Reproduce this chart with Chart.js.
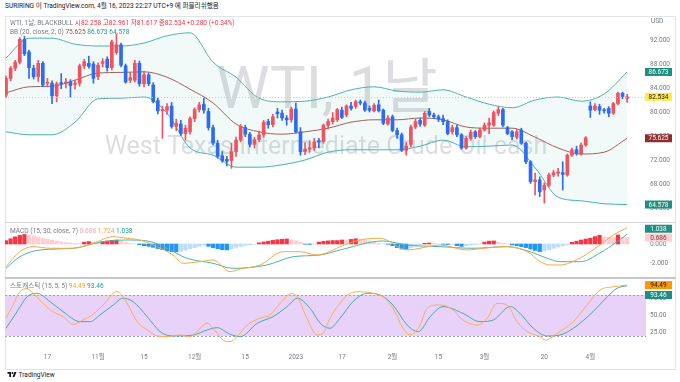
<!DOCTYPE html>
<html>
<head>
<meta charset="utf-8">
<script src="https://cdn.jsdelivr.net/npm/chart.js@4/dist/chart.umd.min.js"></script>
<style>
  html, body { margin: 0; padding: 0; background: #fff; }
  body { width: 680px; height: 382px; position: relative; overflow: hidden;
         font-family: Roboto, "Noto Sans CJK KR", sans-serif; }
  canvas { position: absolute; left: 0; }
  .txt { position: absolute; white-space: nowrap; font-size: 6.6px; line-height: 9px; }
  .g { color: #787b86; }
  .r { color: #f23645; }
  .t { color: #22998c; }
  .o { color: #f5a23c; }
  #frame { position: absolute; left: 5px; top: 16px; width: 671px; height: 354px;
           border: 1px solid #e0e3eb; box-sizing: border-box; }
  .sep { position: absolute; left: 5px; width: 671px; }
</style>
</head>
<body>
<div id="frame"></div>
<div class="sep" style="top:222px;height:1px;background:#d6d8de"></div>
<div class="sep" style="top:277px;height:2px;background:#c5c7ce"></div>

<canvas id="mainChart" width="680" height="206" style="top:16px"></canvas>
<canvas id="macdChart" width="680" height="54" style="top:223px"></canvas>
<canvas id="stochChart" width="680" height="90" style="top:279px"></canvas>

<div class="txt" style="left:5px;top:2px;color:#131722">SURIRING 이 TradingView.com, 4월 16, 2023 22:27 UTC+9 에 퍼블리쉬했음</div>
<div class="txt" style="left:10px;top:19px"><span class="g">WTI, 1날, BLACKBULL</span> <span class="r">시82.258</span> <span class="r">고82.961</span> <span class="r">저81.617</span> <span class="r">종82.534</span> <span class="r">+0.280 (+0.34%)</span></div>
<div class="txt" style="left:10px;top:28px"><span class="g">BB (20, close, 2, 0)</span> <span style="color:#a34848">75.625</span> <span class="t">86.673</span> <span class="t">64.578</span></div>
<div class="txt" style="left:10px;top:227px"><span class="g">MACD (15, 30, close, 7)</span> <span style="color:#f6a5b4">0.686</span> <span class="o">1.724</span> <span class="t">1.038</span></div>
<div class="txt" style="left:10px;top:282px"><span class="g">스토캐스틱 (15, 5, 5)</span> <span class="o">94.49</span> <span class="t">93.46</span></div>
<div class="txt g" style="left:651px;top:17px;font-size:6.5px">USD</div>
<div class="txt" style="left:7px;top:371px;color:#131722">
  <svg width="10" height="7" viewBox="0 0 36 28" style="vertical-align:-1px"><path d="M14 24H7V11H0V4h14v20zM28 24h-8l7.5-20h8L28 24z" fill="#131722"/><circle cx="20" cy="8" r="4" fill="#131722"/></svg> TradingView</div>

<script>
// ---- time axis ----
const tickIdx  = [9, 20, 30, 41, 52, 63, 73, 84, 94, 104, 117, 127];
const tickText = ['17', '11월', '15', '12월', '15', '2023', '17', '2월', '15', '3월', '20', '4월'];

// ---- daily candles (bar index 0..135) ----
const opens = [
  82.8, 85.6, 87.3, 88.3, 92.1, 90.0, 87.3, 85.9, 88.1, 84.8,
  84.8, 82.7, 84.9, 84.7, 85.0, 84.6, 84.8, 87.7, 88.1, 88.0,
  85.9, 88.1, 88.8, 87.4, 89.9, 91.2, 87.7, 85.3, 85.3, 88.1,
  84.7, 86.2, 84.5, 81.9, 80.2, 80.3, 81.0, 77.6, 78.0, 76.4,
  76.7, 78.9, 80.4, 81.3, 80.1, 77.4, 74.8, 72.7, 72.1, 71.9,
  73.4, 75.3, 77.4, 76.3, 74.6, 75.4, 76.2, 78.4, 77.9, 80.0,
  79.8, 79.0, 78.7, 80.5, 76.7, 73.4, 73.8, 74.0, 75.2, 75.1,
  77.8, 78.4, 78.7, 80.3, 79.5, 81.0, 80.9, 81.7, 81.5, 80.6,
  80.2, 81.2, 80.3, 78.0, 79.2, 76.9, 76.2, 73.6, 74.6, 77.5,
  78.6, 77.8, 80.1, 79.5, 79.2, 78.9, 78.4, 76.7, 77.4, 76.2,
  74.0, 75.6, 76.7, 75.9, 77.0, 77.8, 77.8, 79.8, 80.4, 77.4,
  76.7, 75.8, 77.0, 74.8, 71.7, 68.4, 68.7, 67.0, 67.8, 69.5,
  69.8, 69.9, 69.5, 72.8, 73.7, 73.0, 74.5, 81.0, 80.4, 80.9,
  80.3, 80.6, 79.8, 81.4, 83.1, 82.258
];
const highs = [
  86.0, 87.6, 88.6, 92.4, 92.6, 90.3, 87.8, 88.6, 88.4, 85.6,
  85.2, 85.0, 86.4, 85.6, 85.4, 85.3, 88.0, 88.8, 89.3, 88.4,
  88.2, 88.9, 89.2, 92.0, 93.0, 91.5, 88.0, 86.6, 88.6, 88.5,
  86.8, 86.5, 84.9, 82.3, 81.0, 81.4, 81.6, 78.8, 78.6, 77.8,
  79.2, 80.7, 81.6, 82.5, 80.6, 77.8, 75.3, 73.4, 72.6, 74.8,
  75.8, 77.9, 77.8, 76.6, 75.8, 76.8, 78.6, 78.8, 79.6, 80.6,
  80.3, 79.4, 80.8, 81.5, 77.4, 74.9, 75.2, 75.6, 75.6, 78.0,
  78.8, 79.9, 80.6, 80.8, 81.2, 81.6, 82.0, 82.0, 81.8, 81.0,
  81.4, 82.0, 80.5, 79.4, 79.5, 77.3, 76.5, 74.9, 77.8, 78.8,
  79.0, 80.1, 80.6, 79.8, 79.5, 79.5, 78.7, 77.8, 77.8, 76.4,
  75.9, 77.0, 76.9, 77.3, 78.2, 79.0, 80.2, 80.9, 80.6, 77.6,
  76.9, 77.1, 77.3, 75.0, 71.9, 69.8, 69.2, 68.2, 69.8, 70.3,
  70.6, 71.7, 73.0, 74.0, 74.3, 74.8, 75.9, 81.7, 81.4, 81.3,
  80.6, 80.9, 81.6, 83.3, 83.3, 82.961
];
const lows = [
  82.4, 85.2, 86.9, 88.0, 89.4, 85.6, 85.5, 85.1, 84.2, 84.2,
  81.4, 81.7, 83.9, 84.0, 82.5, 83.8, 84.3, 87.2, 87.3, 84.8,
  85.4, 87.5, 86.8, 87.0, 89.6, 87.5, 84.8, 84.9, 85.0, 84.3,
  84.2, 84.4, 81.5, 79.7, 75.6, 79.6, 77.3, 76.9, 76.1, 75.3,
  76.3, 78.4, 80.0, 79.8, 77.0, 74.5, 72.3, 71.6, 71.0, 70.6,
  72.6, 75.0, 75.9, 74.2, 74.0, 75.0, 75.8, 77.3, 77.5, 79.0,
  78.6, 77.8, 78.3, 76.5, 72.8, 72.9, 73.3, 73.6, 74.0, 74.8,
  77.2, 78.0, 78.4, 78.9, 79.2, 80.3, 80.6, 81.2, 80.1, 80.0,
  80.0, 80.0, 77.9, 77.8, 76.7, 75.6, 73.4, 72.8, 74.2, 77.2,
  77.6, 77.6, 79.2, 78.9, 78.4, 77.9, 76.2, 76.3, 75.9, 73.8,
  73.8, 75.3, 75.6, 75.7, 76.8, 76.4, 77.6, 79.4, 77.5, 76.2,
  75.4, 75.5, 74.6, 71.4, 68.1, 66.2, 65.9, 64.8, 67.5, 69.2,
  69.3, 67.0, 69.3, 72.6, 72.8, 72.8, 74.3, 79.1, 80.2, 79.6,
  79.8, 79.2, 79.6, 81.2, 82.2, 81.617
];
const closes = [
  85.6, 87.3, 88.3, 92.1, 89.7, 87.4, 85.9, 88.1, 84.5, 84.9,
  82.7, 84.7, 84.7, 85.0, 84.4, 84.8, 87.7, 88.4, 87.6, 85.6,
  87.8, 88.4, 87.4, 91.7, 91.2, 87.8, 85.0, 85.7, 88.1, 84.7,
  86.2, 84.7, 81.7, 80.2, 80.4, 80.9, 77.6, 78.1, 76.4, 77.3,
  78.9, 80.4, 81.2, 80.3, 77.4, 74.8, 72.6, 71.9, 71.8, 73.4,
  75.3, 77.6, 76.3, 74.6, 75.4, 76.2, 78.3, 77.9, 79.2, 79.7,
  79.0, 78.7, 80.5, 76.7, 73.4, 73.8, 74.0, 75.0, 75.0, 77.8,
  78.4, 79.0, 80.4, 79.1, 81.0, 80.6, 81.7, 81.5, 80.3, 80.3,
  81.1, 80.2, 78.1, 79.0, 76.9, 76.2, 73.6, 74.3, 77.5, 78.4,
  78.0, 79.8, 79.5, 79.2, 78.8, 78.4, 76.4, 77.4, 76.2, 74.0,
  75.6, 76.6, 75.9, 77.0, 77.8, 78.2, 79.9, 80.4, 77.8, 76.4,
  75.9, 76.7, 74.8, 71.7, 68.4, 68.7, 66.7, 67.8, 69.5, 69.9,
  70.0, 69.6, 72.8, 73.7, 73.1, 74.5, 75.7, 80.3, 81.0, 80.3,
  80.2, 79.8, 81.4, 83.1, 82.6, 82.534
];

// ---- Bollinger bands (20, 2), sampled every 5 bars ----
const bbIdx = [0, 5, 10, 15, 20, 25, 30, 35, 40, 45, 50, 55, 60, 65, 70, 75, 80, 85, 90, 95, 100, 105, 110, 115, 120, 125, 130, 135];
const bbUpper = [89.0, 92.3, 92.3, 91.3, 91.0, 91.0, 91.5, 92.7, 93.2, 88.3, 85.8, 82.3, 81.7, 81.8, 82.5, 83.7, 84.2, 83.5, 83.3, 83.7, 82.5, 81.3, 80.7, 82.0, 82.5, 81.8, 83.0, 86.673];
const bbBasis = [83.2, 84.2, 84.3, 85.3, 86.5, 86.6, 86.7, 85.8, 83.8, 81.5, 78.0, 76.7, 76.3, 76.7, 77.3, 78.3, 78.7, 78.7, 79.0, 78.7, 77.5, 77.3, 77.3, 75.8, 74.0, 73.0, 73.3, 75.625];
const bbLower = [76.7, 76.2, 76.2, 78.3, 82.2, 82.3, 82.5, 79.8, 74.0, 72.8, 70.8, 70.8, 71.2, 72.0, 73.3, 73.7, 73.7, 73.7, 74.3, 75.3, 74.2, 74.3, 74.5, 70.7, 65.8, 65.2, 64.7, 64.578];

// ---- MACD (15, 30, 7) ----
const macdHist = [
  0.35, 0.55, 0.75, 0.9, 1.0, 0.95, 0.85, 0.72, 0.6, 0.5,
  0.4, 0.3, 0.22, 0.15, 0.1, 0.06, 0.04, 0.2, 0.25, 0.18,
  0.12, 0.25, 0.32, 0.38, 0.42, 0.3, 0.18, 0.08, 0.02, -0.08,
  -0.18, -0.25, -0.35, -0.48, -0.6, -0.72, -0.8, -0.82, -0.78, -0.65,
  -0.5, -0.38, -0.25, -0.12, -0.25, -0.38, -0.5, -0.6, -0.62, -0.5,
  -0.35, -0.25, -0.15, -0.08, -0.02, 0.12, 0.22, 0.3, 0.38, 0.45,
  0.5, 0.53, 0.45, 0.35, 0.2, -0.03, -0.05, -0.02, 0.2, 0.28,
  0.33, 0.36, 0.36, 0.42, 0.4, 0.48, 0.55, 0.5, 0.42, 0.32,
  0.18, 0.08, 0.03, -0.03, -0.18, -0.38, -0.53, -0.55, -0.4, -0.25,
  -0.1, 0.07, 0.1, 0.07, 0.02, -0.03, -0.05, -0.04, -0.18, -0.25,
  -0.18, -0.12, -0.06, -0.02, 0.2, 0.3, 0.32, 0.18, 0.06, 0.02,
  -0.1, -0.18, -0.28, -0.38, -0.53, -0.68, -0.8, -0.74, -0.6, -0.46,
  -0.32, -0.2, -0.1, 0.18, 0.3, 0.42, 0.52, 0.6, 0.78, 0.92,
  0.72, 0.7, 0.68, 0.95, 0.72, 0.686
];
const macdLine = [[0, -2.39], [3, -0.81], [5.9, -0.28], [9.6, -0.45], [14.6, -0.45], [18.9, 0.07], [23.3, 0.77], [26.3, 0.6], [29.1, 0.42], [32.8, -0.28], [36.3, -1.16], [38.5, -2.03], [42.2, -1.86], [45, -1.68], [48.7, -2.92], [50.9, -2.63], [55.2, -2.21], [60.2, -0.81], [63.9, -0.81], [67.6, -1.16], [71.1, -0.63], [72.6, -0.28], [77, 0.42], [81.3, 0.6], [87.2, -0.63], [94.3, -0.11], [100.2, -0.63], [103.7, -0.45], [108.9, -0.28], [113.3, -0.81], [116.1, -1.86], [118.3, -2.21], [120.4, -2.21], [124.8, -1.47], [129.1, -0.1], [132, 0.95], [135, 1.724]];
const signalLine = [[0, -2.56], [3, -1.34], [7.4, -0.63], [14.6, -0.45], [20.4, 0.18], [26.3, 0.42], [30.7, 0.32], [35, -0.45], [39.3, -1.5], [45, -2.03], [49.3, -2.56], [56.7, -2.21], [62.4, -1.34], [68.3, -1.16], [72.6, -0.63], [82, 0.32], [87.2, -0.11], [94.3, -0.28], [101.5, -0.45], [108.9, -0.28], [113.9, -0.81], [117.6, -1.5], [120.4, -1.86], [124.8, -1.86], [129.1, -0.95], [132.8, 0.24], [135, 1.038]];

// ---- Stochastic (15, 5, 5) ----
const stochK = [[0, 46], [1.5, 65], [3, 85], [4.6, 89], [5.9, 82.5], [8, 68], [10.2, 55.6], [12.4, 48.3], [14.6, 37], [16.7, 43.4], [18.9, 51.7], [21.1, 65.4], [24.1, 85], [26.3, 68], [28.5, 41], [30.7, 29], [32.8, 20], [35, 19], [37.8, 21.5], [40, 19], [42.2, 31.3], [43.7, 38.6], [45, 31.3], [47.2, 14], [48.7, 11.7], [50.2, 19], [52.4, 36], [55.2, 46], [57.4, 50.7], [59.6, 68], [62.2, 82.5], [63.5, 75.2], [65.4, 46], [67.6, 21.5], [68.9, 24], [70.4, 46], [72.6, 68], [74.8, 82.5], [77, 84.8], [79.8, 82.5], [82, 77.5], [84.1, 60.5], [86.3, 31.3], [87.8, 21.5], [90, 36], [91.5, 60.5], [94.3, 65.4], [97.2, 58], [99.3, 43.4], [102.4, 36], [104.6, 46], [106.7, 67.8], [108.9, 65.4], [111.1, 41], [113.3, 26.3], [116.1, 19], [117.2, 14], [119.8, 24], [123.3, 41], [126.3, 65.4], [129.1, 87.3], [132, 92], [135, 94.49]];
const stochD = [[0, 31.3], [2.4, 55.6], [4.6, 77.5], [6.7, 82.5], [9.6, 70.2], [12.4, 55.6], [16.1, 41], [18.3, 41], [20.4, 50.7], [23.3, 65.4], [25.4, 75.2], [27.6, 70.2], [30.7, 48.3], [33.5, 26.3], [36.3, 20], [40.7, 21.5], [43.7, 28.8], [45.9, 32.2], [48.7, 22.5], [50.9, 19], [54.6, 38.6], [58, 48.3], [61.1, 63], [63.3, 75.2], [66.1, 60.5], [68.3, 38.6], [70.4, 31.3], [72.6, 46], [75.4, 70.2], [78.5, 82.5], [81.3, 80], [84.1, 65.4], [87.2, 36], [89.6, 26.3], [92.2, 48.3], [95, 63], [99.3, 53.2], [103, 41], [105.9, 43.4], [109.6, 63], [111.7, 53.2], [114.6, 31.3], [117.6, 20], [120.4, 21.5], [123.3, 31.3], [127.6, 55.6], [130.7, 77.5], [132.8, 89.8], [135, 93.46]];
const stochBand = [20, 80];

const priceTicks = [64, 68, 72, 76, 80, 84, 88, 92];
const macdTicks = [-2, 0];
const stochTicks = [25, 50, 75];

// ---------------------------------------------------------------
const FONT = 'Roboto, "Noto Sans CJK KR", sans-serif';
const UP = '#ef5360', DOWN = '#2d6cf0';
const TEAL = '#4db3a9';

function xAxis(show) {
  const ax = {
    type: 'linear', min: -0.22, max: 139.1, offset: false, display: show,
    grid: { display: false, drawTicks: false }, border: { display: false },
    ticks: { color: '#787b86', font: { size: 6.5, family: FONT }, padding: 8,
             maxRotation: 0, autoSkip: false, callback: (v, i) => tickText[i] },
    afterBuildTicks: s => { s.ticks = tickIdx.map(v => ({ value: v })); }
  };
  if (show) ax.afterFit = s => { s.height = 24; s.paddingLeft = 0; s.paddingRight = 0; };
  return ax;
}
function yAxis(min, max, ticks, digits) {
  return {
    position: 'right', min, max,
    grid: { display: false, drawTicks: false }, border: { display: false },
    ticks: { color: '#787b86', font: { size: 6.5, family: FONT }, padding: 4,
             callback: v => v.toFixed(digits) },
    afterBuildTicks: s => { s.ticks = ticks.map(v => ({ value: v })); },
    afterFit: s => { s.width = 34; s.paddingTop = 0; s.paddingBottom = 0; }
  };
}
function opts(scales) {
  return {
    responsive: false, animation: false, devicePixelRatio: 1, events: [],
    layout: { padding: { left: 5, right: 0, top: 0, bottom: 0 }, autoPadding: false },
    plugins: { legend: { display: false }, tooltip: { enabled: false } },
    scales
  };
}
// coloured value tags on the price axis
function drawTags(chart, tags) {
  const { ctx, chartArea, scales: { y } } = chart;
  ctx.save();
  ctx.font = '6.5px ' + FONT;
  ctx.textAlign = 'center';
  ctx.textBaseline = 'middle';
  tags.forEach(t => {
    const cy = y.getPixelForValue(t.v) + (t.dy || 0);
    ctx.fillStyle = t.bg;
    ctx.fillRect(chartArea.right - 1, cy - 4, 27, 8);
    ctx.fillStyle = t.fg;
    ctx.fillText(t.v.toFixed(t.d), chartArea.right + 12.5, cy + 0.5);
  });
  ctx.restore();
}
const pts = arr => arr.map(([x, y]) => ({ x, y }));
const last = a => a[a.length - 1];
const idx = closes.map((_, i) => i);
const candleCol = idx.map(i => closes[i] >= opens[i] ? UP : DOWN);

// ---- main price panel ----
new Chart(document.getElementById('mainChart'), {
  type: 'bar',
  data: {
    datasets: [
      { data: idx.map(i => ({ x: i, y: [opens[i], closes[i]] })), backgroundColor: candleCol,
        barThickness: 3, minBarLength: 1, grouped: false, order: 0 },
      { data: idx.map(i => ({ x: i, y: [lows[i], highs[i]] })), backgroundColor: candleCol,
        barThickness: 1, grouped: false, order: 1 },
      { type: 'line', data: bbIdx.map((x, k) => ({ x, y: bbUpper[k] })), borderColor: TEAL, borderWidth: 1,
        pointRadius: 0, cubicInterpolationMode: 'monotone', fill: '+2',
        backgroundColor: 'rgba(38,166,154,0.06)', order: 3 },
      { type: 'line', data: bbIdx.map((x, k) => ({ x, y: bbBasis[k] })), borderColor: '#a0605a', borderWidth: 1,
        pointRadius: 0, cubicInterpolationMode: 'monotone', order: 2 },
      { type: 'line', data: bbIdx.map((x, k) => ({ x, y: bbLower[k] })), borderColor: TEAL, borderWidth: 1,
        pointRadius: 0, cubicInterpolationMode: 'monotone', order: 3 }
    ]
  },
  options: opts({ x: xAxis(false), y: yAxis(61.667, 96, priceTicks, 3) }),
  plugins: [{
    id: 'mainDeco',
    beforeDatasetsDraw(c) {
      const ctx = c.ctx;
      ctx.save();
      ctx.fillStyle = 'rgba(120,123,134,0.26)';
      ctx.textAlign = 'center';
      ctx.textBaseline = 'middle';
      ctx.font = '60px ' + FONT;
      ctx.fillText('WTI, 1날', 327, 77);
      ctx.font = '25px ' + FONT;
      ctx.fillText('West Texas Intermediate Crude Oil cash', 326, 132);
      ctx.restore();
    },
    afterDatasetsDraw(c) {
      const { ctx, chartArea: a, scales: { y } } = c;
      const py = Math.round(y.getPixelForValue(last(closes))) + 0.5;
      ctx.save();
      ctx.strokeStyle = '#f3d63a';
      ctx.setLineDash([1, 2]);
      ctx.beginPath(); ctx.moveTo(a.left, py); ctx.lineTo(a.right, py); ctx.stroke();
      ctx.restore();
    },
    afterDraw(c) {
      drawTags(c, [
        { v: last(bbUpper), d: 3, bg: '#1f8f82', fg: '#fff' },
        { v: last(closes), d: 3, bg: '#ffe94a', fg: '#131722' },
        { v: last(bbBasis), d: 3, bg: '#8e2e2e', fg: '#fff' },
        { v: last(bbLower), d: 3, bg: '#1f8f82', fg: '#fff' }
      ]);
    }
  }]
});

// ---- MACD panel ----
const histCol = macdHist.map((v, i) => {
  const p = i > 0 ? macdHist[i - 1] : 0;
  if (v >= 0) return v >= p ? '#f23645' : '#ffcdd2';
  return v <= p ? '#2196f3' : '#bbdefb';
});
new Chart(document.getElementById('macdChart'), {
  type: 'bar',
  data: {
    datasets: [
      { data: macdHist.map((v, i) => ({ x: i, y: v })), backgroundColor: histCol,
        barThickness: 3.6, grouped: false, order: 2 },
      { type: 'line', data: pts(macdLine), borderColor: '#f7a843', borderWidth: 1, pointRadius: 0,
        cubicInterpolationMode: 'monotone', order: 0 },
      { type: 'line', data: pts(signalLine), borderColor: TEAL, borderWidth: 1, pointRadius: 0,
        cubicInterpolationMode: 'monotone', order: 1 }
    ]
  },
  options: opts({ x: xAxis(false), y: yAxis(-3.474, 2.21, macdTicks, 3) }),
  plugins: [{
    id: 'macdTags',
    afterDraw(c) {
      drawTags(c, [
        { v: last(signalLine)[1], d: 3, bg: '#1f8f82', fg: '#fff', dy: -5.4 },
        { v: last(macdHist), d: 3, bg: '#ffcdd2', fg: '#7a3a3a' }
      ]);
    }
  }]
});

// ---- Stochastic panel ----
new Chart(document.getElementById('stochChart'), {
  type: 'line',
  data: {
    datasets: [
      { data: pts(stochK), borderColor: '#f8ae55', borderWidth: 1, pointRadius: 0, cubicInterpolationMode: 'monotone' },
      { data: pts(stochD), borderColor: '#4aa9a6', borderWidth: 1, pointRadius: 0, cubicInterpolationMode: 'monotone' }
    ]
  },
  options: opts({ x: xAxis(true), y: yAxis(6.83, 103.4, stochTicks, 2) }),
  plugins: [{
    id: 'stochDeco',
    beforeDatasetsDraw(c) {
      const { ctx, chartArea: a, scales: { y } } = c;
      const top = y.getPixelForValue(stochBand[1]), bot = y.getPixelForValue(stochBand[0]);
      ctx.save();
      ctx.fillStyle = '#e8d2fa';
      ctx.fillRect(a.left, top, a.right - a.left, bot - top);
      ctx.strokeStyle = '#a4a4ae';
      ctx.setLineDash([2, 2]);
      [top, bot].forEach(py => {
        ctx.beginPath();
        ctx.moveTo(a.left, Math.round(py) + 0.5);
        ctx.lineTo(a.right, Math.round(py) + 0.5);
        ctx.stroke();
      });
      ctx.restore();
    },
    afterDraw(c) {
      drawTags(c, [
        { v: last(stochK)[1], d: 2, bg: '#ff9800', fg: '#131722' },
        { v: last(stochD)[1], d: 2, bg: '#1f8f82', fg: '#fff', dy: 9.2 }
      ]);
    }
  }]
});
</script>
</body>
</html>
